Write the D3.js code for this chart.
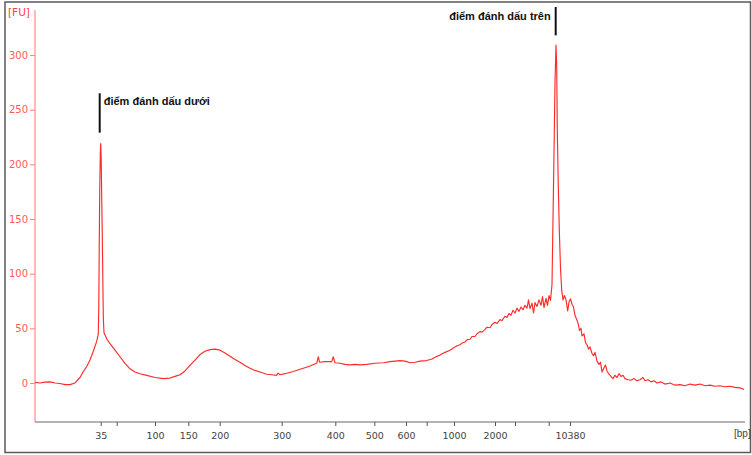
<!DOCTYPE html>
<html>
<head>
<meta charset="utf-8">
<script src="https://cdn.jsdelivr.net/npm/d3@7"></script>
<style>
  html, body { margin: 0; padding: 0; background: #fff; }
  svg { display: block; }
</style>
</head>
<body>
<svg id="chart" width="752" height="455"></svg>
<script>
// ---- Data ----
// Ladder sizes (bp) and their migration times (s)
const ladderSizes = [35, 50, 100, 150, 200, 300, 400, 500, 600, 700, 1000, 2000, 3000, 7000, 10380];
const ladderTimes = [46.57, 48.17, 52.0, 55.33, 58.47, 64.67, 70.03, 73.93, 77.1, 79.17, 81.9, 86.0, 88.0, 91.37, 93.5];
const ladderLabels = ["35", "", "100", "150", "200", "300", "400", "500", "600", "", "1000", "2000", "", "", "10380"];

// Y ticks (FU)
const yTicks = [0, 50, 100, 150, 200, 250, 300];

// Electropherogram trace: migration time (s) and fluorescence (FU)
const traceTime = [
  40.0, 40.5, 41.0, 41.5, 42.0, 42.5, 43.0, 43.5, 44.0, 44.5, 44.8, 45.17, 45.5, 45.83, 46.17, 46.33,
  46.38, 46.42, 46.47, 46.53, 46.57, 46.62, 46.67, 46.72, 46.77, 46.83, 46.9, 47.2, 47.5, 48.0, 48.5,
  49.0, 49.5, 50.0, 50.5, 51.17, 52.0, 52.83, 53.5, 54.0, 54.5, 55.0, 55.5, 56.0, 56.5, 57.0, 57.5,
  58.0, 58.5, 59.0, 59.5, 60.0, 60.5, 61.0, 61.5, 62.0, 62.5, 63.17, 63.7, 64.17, 64.3, 64.5, 65.0,
  65.83, 66.5, 67.0, 67.5, 68.17, 68.33, 68.45, 69.0, 69.67, 69.83, 70.0, 70.5, 71.0, 71.5, 72.0,
  72.5, 73.17, 74.0, 74.83, 75.5, 76.5, 77.0, 77.5, 78.0, 78.5, 79.17, 79.7, 80.1, 80.5, 81.0, 81.5,
  81.83, 82.2, 82.5, 82.7, 83.0, 83.2, 83.5, 83.7, 84.0, 84.2, 84.5, 84.7, 85.0, 85.2, 85.5, 85.7,
  86.0, 86.2, 86.5, 86.7, 87.0, 87.2, 87.4, 87.6, 87.8, 88.0, 88.2, 88.4, 88.6, 88.8, 89.0, 89.2,
  89.35, 89.5, 89.7, 89.85, 90.0, 90.2, 90.4, 90.6, 90.75, 90.9, 91.1, 91.25, 91.4, 91.55, 91.7,
  91.8, 91.9, 92.0, 92.1, 92.17, 92.23, 92.33, 92.43, 92.55, 92.67, 92.8, 92.95, 93.1, 93.27, 93.4,
  93.55, 93.7, 93.83, 94.0, 94.17, 94.3, 94.45, 94.6, 94.7, 94.9, 95.05, 95.2, 95.35, 95.5, 95.7,
  95.85, 96.0, 96.2, 96.4, 96.55, 96.7, 96.9, 97.05, 97.2, 97.4, 97.6, 97.8, 98.0, 98.2, 98.4, 98.6,
  98.8, 99.0, 99.3, 99.6, 99.9, 100.2, 100.5, 100.8, 101.0, 101.3, 101.6, 101.9, 102.2, 102.6, 103.0,
  103.5, 104.0, 104.5, 105.0, 105.5, 106.0, 106.5, 107.0, 107.5, 108.0, 108.5, 109.0, 109.5, 110.0,
  110.5, 110.9
];
const traceFU = [
  0.5, 0, 0.8, 1, 0, -0.5, -1.5, -1.5, 0, 5, 10, 15, 21, 29, 38, 45,
  70, 120, 175, 210, 219, 205, 170, 140, 105, 60, 46, 40, 36, 30, 24,
  18, 13, 10, 8.5, 7, 5, 4, 4.5, 6, 7.5, 11, 16, 21, 26, 29, 30.5,
  31, 30, 27.5, 24.5, 21.5, 19, 16, 13.5, 11.5, 10, 8, 7.5, 7, 9, 7.5, 8.5,
  10.5, 12.5, 14, 15.5, 18, 24, 19, 19.5, 19.5, 24, 18.5, 18, 17, 16.5, 17,
  16.5, 17, 18, 18.5, 19.5, 20.5, 20, 18.5, 19, 20, 20.5, 22, 24, 25.5, 28, 30,
  32, 34, 35, 36.5, 37.5, 39.5, 40, 42.5, 42.5, 45, 47, 46.5, 49, 51, 50.5, 53.5,
  55.5, 54.5, 58, 57, 61, 60, 63.5, 62, 66.5, 64, 68.5, 65.5, 69.5, 67, 71, 68.5,
  76, 68, 73, 64, 73.5, 70, 76, 71, 79, 69, 77.5, 71, 80, 75.5, 90,
  150, 210, 275, 309, 290, 231, 180, 140, 105, 85, 76, 80, 76, 66, 74,
  77, 72, 70, 62, 58, 55, 48, 50, 43, 45, 37, 35, 31, 33, 27,
  25, 28, 20, 17, 19, 10, 14, 16.5, 11, 8, 6, 4, 7, 5, 8.5, 6,
  7, 4, 3, 2.5, 4, 2, 3, 5, 2, 3, 1, 2, 0, 1, -1,
  0, -2, -1.5, -2.5, -1, -2, -1, -2.5, -2, -3, -2.5, -3.5, -3, -4,
  -4.5, -6
];

// Marker annotations: names and the time windows in which their peaks lie
const markerNames = ["điểm đánh dấu dưới", "điểm đánh dấu trên"];
const markerWindows = [[45, 48], [91, 94]];

// ---- Drawing ----
(function () {
  const svg = d3.select("#chart");
  const mLeft = 35, mRight = 745, mTop = 10, mBottom = 422;
  const tickFont = "'DejaVu Sans', Verdana, sans-serif";

  // frame
  svg.append("rect")
    .attr("x", 5).attr("y", 2)
    .attr("width", 745.5).attr("height", 450.5)
    .attr("fill", "#fff")
    .attr("stroke", "#5a5a5a").attr("stroke-width", 1.5);

  const x = d3.scaleLinear().domain([40, 111]).range([mLeft, mRight]);
  const y = d3.scaleLinear().domain([-35.7, 341.2]).range([mBottom, mTop]);

  // y axis
  const yAxis = d3.axisLeft(y).tickValues(yTicks).tickSize(5).tickPadding(2).tickSizeOuter(0);
  const gy = svg.append("g").attr("transform", `translate(${mLeft},0)`).call(yAxis);
  gy.select(".domain").attr("stroke", "#ff8c8c").attr("stroke-width", 1.2)
    .attr("d", `M0,${mTop}V${mBottom}`);
  gy.selectAll(".tick line").attr("stroke", "#ff8080");
  gy.selectAll(".tick text").attr("fill", "#ff5a5a")
    .style("font-family", tickFont).style("font-size", "10px");

  svg.append("text")
    .attr("x", 8).attr("y", 16)
    .attr("fill", "#ff4040")
    .style("font-family", tickFont).style("font-size", "10.5px")
    .text("[FU]");

  // x axis
  const xAxis = d3.axisBottom(x).tickValues(ladderTimes)
    .tickFormat((d, i) => ladderLabels[i]).tickSize(4).tickPadding(6).tickSizeOuter(0);
  const gx = svg.append("g").attr("transform", `translate(0,${mBottom})`).call(xAxis);
  gx.select(".domain").attr("stroke", "#6a6a6a").attr("stroke-width", 1.2)
    .attr("d", `M${mLeft},0H${mRight}`);
  gx.selectAll(".tick line").attr("stroke", "#555");
  gx.selectAll(".tick text").attr("fill", "#444")
    .style("font-family", tickFont).style("font-size", "9.5px");

  svg.append("text")
    .attr("x", 734).attr("y", 437)
    .attr("fill", "#444")
    .style("font-family", "'Liberation Sans', Arial, sans-serif").style("font-size", "10px")
    .text("[bp]");

  // trace
  const traceData = traceTime.map((t, i) => ({ t, v: traceFU[i] }));
  const line = d3.line().x(d => x(d.t)).y(d => y(d.v));
  svg.append("path")
    .datum(traceData)
    .attr("d", line)
    .attr("fill", "none")
    .attr("stroke", "#ff2a2a")
    .attr("stroke-width", 1.15)
    .attr("stroke-linejoin", "round");

  // markers at the peak maxima
  const markerFont = "'Liberation Sans', Arial, sans-serif";
  const peaks = markerWindows.map(([a, b]) => {
    const inWin = traceData.filter(d => d.t >= a && d.t <= b);
    return inWin.reduce((m, d) => (d.v > m.v ? d : m), inWin[0]);
  });

  // lower marker: line above the peak, text to the right
  {
    const p = peaks[0];
    const mx = x(p.t) - 1;
    svg.append("line").attr("x1", mx).attr("x2", mx)
      .attr("y1", y(p.v + 46)).attr("y2", y(p.v + 10))
      .attr("stroke", "#111").attr("stroke-width", 2);
    svg.append("text").attr("x", mx + 4).attr("y", y(p.v + 36) + 1)
      .attr("fill", "#111")
      .style("font-family", markerFont).style("font-size", "11px").style("font-weight", "bold")
      .text(markerNames[0]);
  }
  // upper marker: line above the peak, text to the left
  {
    const p = peaks[1];
    const mx = x(p.t) - 0.3;
    svg.append("line").attr("x1", mx).attr("x2", mx)
      .attr("y1", 7).attr("y2", y(p.v + 9))
      .attr("stroke", "#111").attr("stroke-width", 2);
    svg.append("text").attr("x", mx - 5).attr("y", 20)
      .attr("text-anchor", "end")
      .attr("fill", "#111")
      .style("font-family", markerFont).style("font-size", "11px").style("font-weight", "bold")
      .text(markerNames[1]);
  }
})();
</script>
</body>
</html>
